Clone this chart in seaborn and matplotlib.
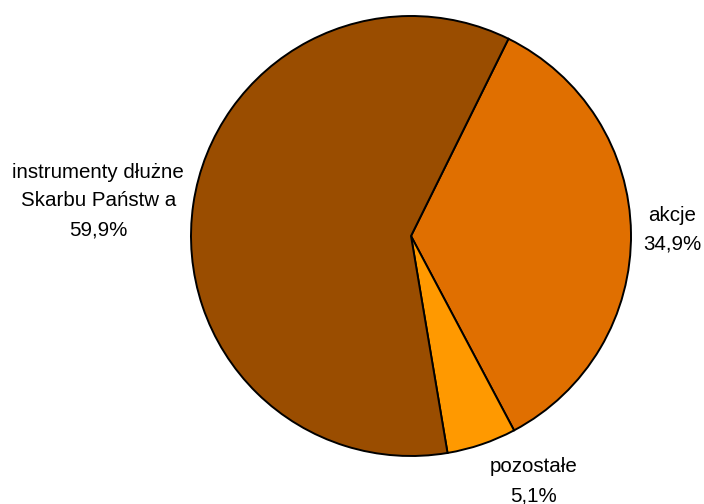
import matplotlib
matplotlib.use("Agg")
import matplotlib.pyplot as plt
import seaborn as sns

labels = ['akcje', 'pozostałe', 'instrumenty dłużne\nSkarbu Państw a']
values = [34.9, 5.1, 59.9]
colors = ['#E06F00', '#FF9900', '#9A4D00']

sns.set_theme(style="white")
plt.rcParams['font.family'] = ['Liberation Sans', 'DejaVu Sans']

fig = plt.figure(figsize=(7.04, 5.04), dpi=100)
ax = fig.add_axes([0, 0, 1, 1])
ax.pie(values, colors=colors, startangle=63.7, counterclock=False,
       radius=1.0, center=(0, 0),
       wedgeprops=dict(edgecolor='black', linewidth=1.4))

# label positions (pie radius = 1)
pos = [(1.186, 0.027), (0.555, -1.115), (-1.422, 0.16)]
for lab, v, (x, y) in zip(labels, values, pos):
    txt = f"{lab}\n{v:.1f}%".replace('.', ',')
    ax.text(x, y, txt, ha='center', va='center', fontsize=14.8,
            linespacing=1.65, color='black')

ax.set_xlim(-411 / 220, (704 - 411) / 220)
ax.set_ylim(-268 / 220, 236 / 220)
ax.set_aspect('auto')
ax.axis('off')

fig.savefig('out.png', dpi=100)
